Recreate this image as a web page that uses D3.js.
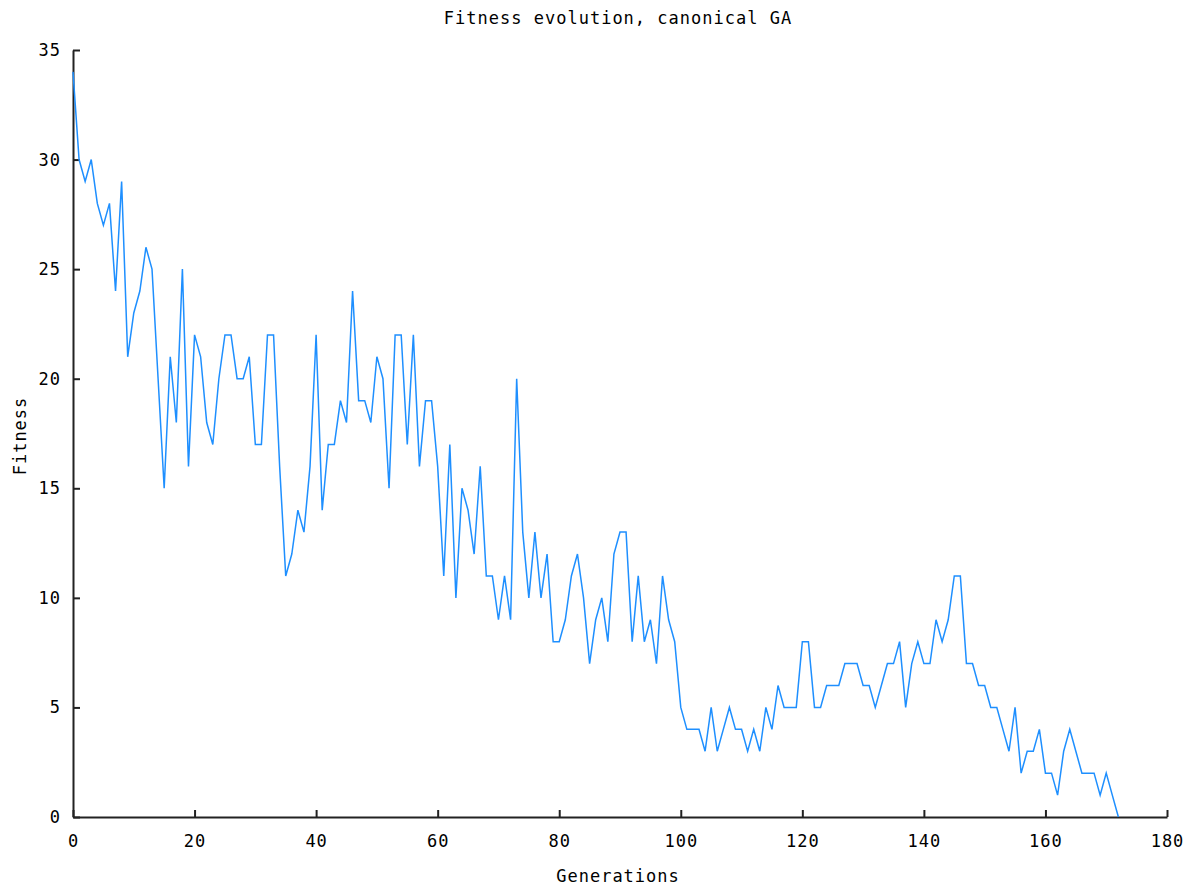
<!DOCTYPE html>
<meta charset="utf-8">
<script src="https://d3js.org/d3.v7.min.js"></script>
<style type="text/css">
body { margin: 0; background: #fff; }
.eixo path, .eixo line {
    stroke: #222;
    stroke-width: 2;
}
.eixo text, .rotulo {
    font-family: "DejaVu Sans Mono", monospace;
    font-size: 17px;
    letter-spacing: 1px;
    fill: #000;
}
.linha-fitness {
    fill: none;
    stroke: #1e8fff;
    stroke-width: 1.5;
}
</style>
<body>
<div id="canvas"></div>
<script>

    // fitness por geracao, geracoes 0..172
    var fitness = [
        34, 30, 29, 30, 28, 27, 28, 24, 29, 21,
        23, 24, 26, 25, 20, 15, 21, 18, 25, 16,
        22, 21, 18, 17, 20, 22, 22, 20, 20, 21,
        17, 17, 22, 22, 16, 11, 12, 14, 13, 16,
        22, 14, 17, 17, 19, 18, 24, 19, 19, 18,
        21, 20, 15, 22, 22, 17, 22, 16, 19, 19,
        16, 11, 17, 10, 15, 14, 12, 16, 11, 11,
        9, 11, 9, 20, 13, 10, 13, 10, 12, 8,
        8, 9, 11, 12, 10, 7, 9, 10, 8, 12,
        13, 13, 8, 11, 8, 9, 7, 11, 9, 8,
        5, 4, 4, 4, 3, 5, 3, 4, 5, 4,
        4, 3, 4, 3, 5, 4, 6, 5, 5, 5,
        8, 8, 5, 5, 6, 6, 6, 7, 7, 7,
        6, 6, 5, 6, 7, 7, 8, 5, 7, 8,
        7, 7, 9, 8, 9, 11, 11, 7, 7, 6,
        6, 5, 5, 4, 3, 5, 2, 3, 3, 4,
        2, 2, 1, 3, 4, 3, 2, 2, 2, 1,
        2, 1, 0
    ];
    var xTicks = [0, 20, 40, 60, 80, 100, 120, 140, 160, 180];
    var yTicks = [0, 5, 10, 15, 20, 25, 30, 35];

    var width = 1189;
    var height = 886;

    var svg = d3.select('#canvas')
        .append("svg")
        .attr("width", width)
        .attr("height", height);

    var margin = {top: 50, right: 22, bottom: 69, left: 73};
    var w = width - margin.left - margin.right;
    var h = height - margin.top - margin.bottom;

    var g = svg.append("g")
        .attr("transform", "translate(" + margin.left + "," + margin.top + ")");

    // escalas
    var x = d3.scaleLinear().domain([0, 180]).range([0, w]);
    var y = d3.scaleLinear().domain([0, 35]).range([h, 0]);

    // eixo X, ticks para dentro
    g.append("g")
        .attr("class", "eixo")
        .attr("transform", "translate(0," + h + ")")
        .call(d3.axisBottom(x).tickValues(xTicks).tickSizeInner(-7).tickSizeOuter(0).tickPadding(18));

    // eixo Y
    g.append("g")
        .attr("class", "eixo")
        .call(d3.axisLeft(y).tickValues(yTicks).tickSizeInner(-7).tickSizeOuter(0).tickPadding(12));

    // linha
    var line = d3.line()
        .x(function(d, i) { return x(i); })
        .y(function(d) { return y(d); });

    g.append("path")
        .attr("class", "linha-fitness")
        .attr("d", line(fitness));

    // titulo e rotulos
    svg.append("text")
        .attr("class", "rotulo")
        .attr("x", 618)
        .attr("y", 24)
        .attr("text-anchor", "middle")
        .text("Fitness evolution, canonical GA");

    svg.append("text")
        .attr("class", "rotulo")
        .attr("x", 618)
        .attr("y", 882)
        .attr("text-anchor", "middle")
        .text("Generations");

    svg.append("text")
        .attr("class", "rotulo")
        .attr("transform", "translate(26,436) rotate(-90)")
        .attr("text-anchor", "middle")
        .text("Fitness");
</script>
</body>
